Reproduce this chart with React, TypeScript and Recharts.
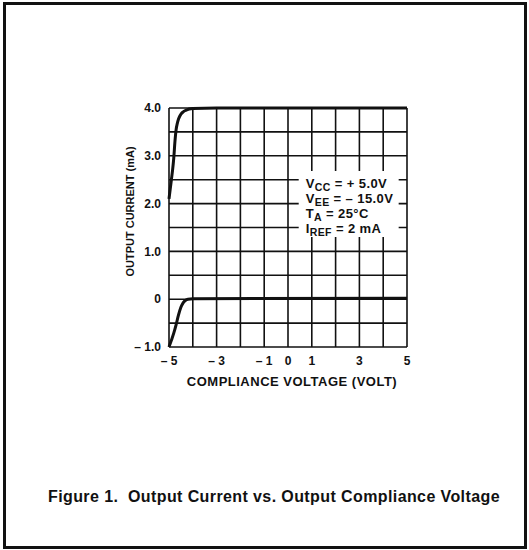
import React from "react";
import {
  LineChart,
  Line,
  XAxis,
  YAxis,
  CartesianGrid,
  ReferenceArea,
  Label,
} from "recharts";

// grid every 1 V / 0.5 mA, labels only on some of them
const VOLT_TICKS = [-5, -4, -3, -2, -1, 0, 1, 2, 3, 4, 5];
const VOLT_LABELS: Record<number, string> = {
  [-5]: "– 5",
  [-3]: "– 3",
  [-1]: "– 1",
  0: "0",
  1: "1",
  3: "3",
  5: "5",
};
const CURRENT_TICKS = [-1, -0.5, 0, 0.5, 1, 1.5, 2, 2.5, 3, 3.5, 4];
const CURRENT_LABELS: Record<number, string> = {
  [-1]: "–\u00a01.0",
  0: "0",
  1: "1.0",
  2: "2.0",
  3: "3.0",
  4: "4.0",
};

// Iref = 2 mA curve
const UPPER_V = [-5, -4.95, -4.9, -4.85, -4.8, -4.75, -4.7, -4.65, -4.6, -4.5, -4.4, -4.3, -4.15, -4.0, -3.0, 5];
const UPPER_I = [2.1, 2.3, 2.5, 2.7, 2.95, 3.3, 3.55, 3.68, 3.77, 3.87, 3.92, 3.95, 3.98, 3.99, 4.0, 4.0];
// lower curve
const LOWER_V = [-5, -4.9, -4.8, -4.7, -4.6, -4.5, -4.4, -4.3, -4.2, -4.0, 5];
const LOWER_I = [-1.0, -0.86, -0.71, -0.53, -0.33, -0.17, -0.07, -0.02, 0, 0.01, 0.02];

const NOTE_LINES = [
  { main: "V", sub: "CC", rest: " = + 5.0V" },
  { main: "V", sub: "EE", rest: " = – 15.0V" },
  { main: "T", sub: "A", rest: " = 25°C" },
  { main: "I", sub: "REF", rest: " = 2 mA" },
];

const upper = UPPER_V.map((v, i) => ({ v, i: UPPER_I[i] }));
const lower = LOWER_V.map((v, i) => ({ v, i: LOWER_I[i] }));

const FONT = "'Liberation Sans', Arial, Helvetica, sans-serif";
const INK = "#111";

function NoteLabel(props: any) {
  const vb = props.viewBox || {};
  const x = vb.x + 7;
  const y0 = vb.y + 17;
  return (
    <g>
      {NOTE_LINES.map((l, k) => (
        <text
          key={k}
          x={x}
          y={y0 + k * 15}
          fontFamily={FONT}
          fontWeight="bold"
          fontSize={13}
          letterSpacing={0.4}
          fill={INK}
        >
          <tspan>{l.main}</tspan>
          <tspan dy={3} fontSize={10.5}>{l.sub}</tspan>
          <tspan dy={-3}>{l.rest}</tspan>
        </text>
      ))}
    </g>
  );
}

function YLabel(props: any) {
  const vb = props.viewBox || {};
  const cx = vb.x + 1;
  const cy = vb.y + vb.height / 2 - 16;
  return (
    <text
      x={cx}
      y={cy}
      transform={`rotate(-90, ${cx}, ${cy})`}
      textAnchor="middle"
      dominantBaseline="central"
      fontFamily={FONT}
      fontWeight="bold"
      fontSize={11}
      fill={INK}
    >
      OUTPUT CURRENT (mA)
    </text>
  );
}

const tickStyle = { fill: INK, fontSize: 12, fontWeight: "bold", fontFamily: FONT };

export default function App() {
  return (
    <div style={{ position: "absolute", left: 0, top: 0, width: 529, height: 550, background: "#fff" }}>
      <div
        style={{
          position: "absolute",
          left: 3,
          top: 2,
          width: 524,
          height: 547,
          boxSizing: "border-box",
          border: `3px solid ${INK}`,
        }}
      />
      <LineChart
        width={529}
        height={550}
        margin={{ top: 108, left: 129, right: 122, bottom: 163 }}
        style={{ position: "absolute", left: 0, top: 0 }}
      >
        <CartesianGrid stroke={INK} strokeWidth={1.6} />
        <XAxis
          dataKey="v"
          type="number"
          domain={[-5, 5]}
          ticks={VOLT_TICKS}
          tickFormatter={(t: number) => VOLT_LABELS[t] ?? ""}
          interval={0}
          height={40}
          axisLine={false}
          tickLine={false}
          tickMargin={3}
          tick={tickStyle}
          allowDuplicatedCategory={false}
        >
          <Label
            value="COMPLIANCE VOLTAGE (VOLT)"
            position="insideBottom"
            offset={1}
            dx={4}
            fill={INK}
            fontSize={13}
            letterSpacing={0.5}
            fontWeight="bold"
            fontFamily={FONT}
          />
        </XAxis>
        <YAxis
          type="number"
          domain={[-1, 4]}
          ticks={CURRENT_TICKS}
          tickFormatter={(t: number) => CURRENT_LABELS[t] ?? ""}
          interval={0}
          width={40}
          axisLine={false}
          tickLine={false}
          tick={tickStyle}
        >
          <Label content={<YLabel />} />
        </YAxis>
        <ReferenceArea
          x1={0.45}
          x2={4.65}
          y1={1.3}
          y2={2.68}
          fill="#fff"
          fillOpacity={1}
          stroke="none"
          label={<NoteLabel />}
        />
        <Line
          data={upper}
          dataKey="i"
          type="monotone"
          stroke={INK}
          strokeWidth={3}
          dot={false}
          isAnimationActive={false}
        />
        <Line
          data={lower}
          dataKey="i"
          type="monotone"
          stroke={INK}
          strokeWidth={3}
          dot={false}
          isAnimationActive={false}
        />
      </LineChart>
      <div
        style={{
          position: "absolute",
          left: 48,
          top: 488,
          fontFamily: FONT,
          fontWeight: "bold",
          fontSize: 16,
          letterSpacing: 0.4,
          lineHeight: "18px",
          color: INK,
          whiteSpace: "pre",
        }}
      >
        {"Figure 1.  Output Current vs. Output Compliance Voltage"}
      </div>
    </div>
  );
}
